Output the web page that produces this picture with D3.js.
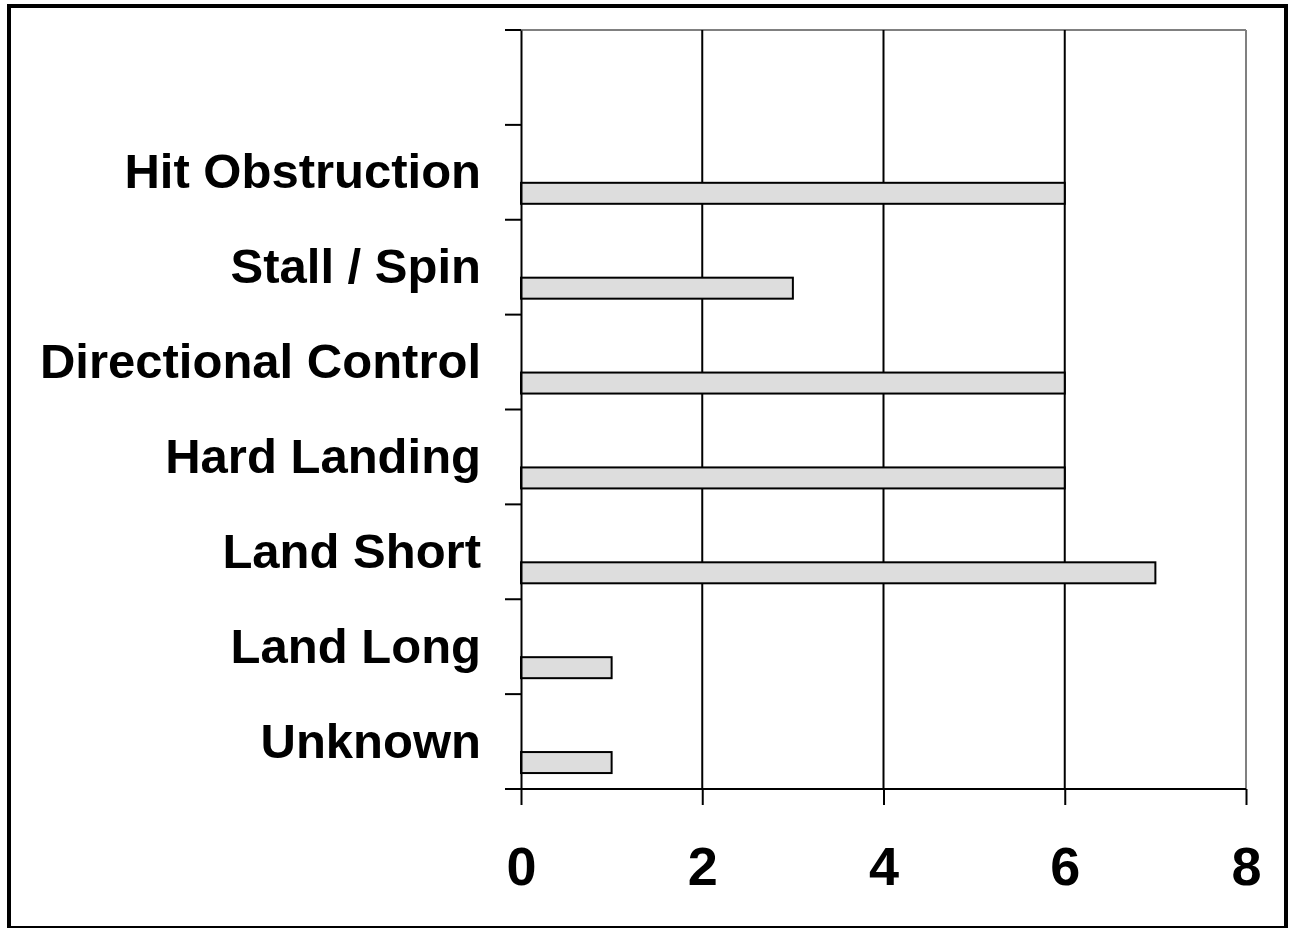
<!DOCTYPE html>
<html>
<head>
    <script src="https://d3js.org/d3.v7.min.js"></script>
    <style>
        body { margin: 0; background: #fff; }
        text { font-family: "Liberation Sans", Arial, sans-serif; font-weight: bold; fill: #000; }
    </style>
</head>
<body>
    <svg width="1293" height="928"></svg>
    <script>
        // categories top to bottom (top slot is empty in the original)
        const categories = ["", "Hit Obstruction", "Stall / Spin", "Directional Control",
            "Hard Landing", "Land Short", "Land Long", "Unknown"];
        const counts = [null, 6, 3, 6, 6, 7, 1, 1];
        const xTicks = [0, 2, 4, 6, 8];
        // three series slots per category, only the last one carries data
        const seriesSlots = ["a", "b", "c"];

        const svg = d3.select("svg");
        const plotLeft = 521, plotRight = 1246, plotTop = 30, plotBottom = 789;

        svg.append("rect")
            .attr("x", 9).attr("y", 6)
            .attr("width", 1277).attr("height", 922)
            .attr("fill", "none").attr("stroke", "#000").attr("stroke-width", 4);

        const x = d3.scaleLinear().domain([0, 8]).range([plotLeft, plotRight]);
        const y = d3.scaleBand().domain(categories).range([plotTop, plotBottom]).paddingInner(0).paddingOuter(0);
        const inner = d3.scaleBand().domain(seriesSlots)
            .range([0, y.bandwidth()]).paddingInner(0).paddingOuter(0.76);

        // plot frame (grey top and right)
        svg.append("line").attr("x1", plotLeft).attr("x2", plotRight).attr("y1", plotTop).attr("y2", plotTop)
            .attr("stroke", "#808080").attr("stroke-width", 2);
        svg.append("line").attr("x1", plotRight).attr("x2", plotRight).attr("y1", plotTop).attr("y2", plotBottom)
            .attr("stroke", "#808080").attr("stroke-width", 2);

        // vertical gridlines
        svg.append("g").selectAll("line")
            .data(xTicks.filter(d => d > 0 && d < 8))
            .join("line")
            .attr("x1", d => x(d)).attr("x2", d => x(d))
            .attr("y1", plotTop).attr("y2", plotBottom)
            .attr("stroke", "#000").attr("stroke-width", 2);

        // bars
        svg.append("g").selectAll("rect")
            .data(categories.map((c, i) => ({ c, v: counts[i] })).filter(d => d.v != null))
            .join("rect")
            .attr("x", x(0))
            .attr("y", d => y(d.c) + inner("c"))
            .attr("width", d => x(d.v) - x(0))
            .attr("height", inner.bandwidth())
            .attr("fill", "#dddddd").attr("stroke", "#000").attr("stroke-width", 2);

        // y axis
        const yAxis = svg.append("g")
            .attr("transform", `translate(${plotLeft},0)`)
            .call(d3.axisLeft(y).tickSize(0).tickFormat(""));
        yAxis.select(".domain").attr("stroke", "#000").attr("stroke-width", 2);
        const yEdges = d3.range(categories.length + 1).map(i => plotTop + i * y.bandwidth());
        svg.append("g").selectAll("line")
            .data(yEdges)
            .join("line")
            .attr("x1", plotLeft - 16).attr("x2", plotLeft)
            .attr("y1", d => d).attr("y2", d => d)
            .attr("stroke", "#000").attr("stroke-width", 2);

        svg.append("g").selectAll("text")
            .data(categories.filter(c => c))
            .join("text")
            .attr("x", 481)
            .attr("y", d => y(d) + y.bandwidth() / 2 + 16)
            .attr("text-anchor", "end")
            .style("font-size", "49px")
            .text(d => d);

        // x axis
        const xAxis = svg.append("g")
            .attr("transform", `translate(0,${plotBottom})`)
            .call(d3.axisBottom(x).tickValues(xTicks).tickSize(16).tickPadding(0).tickFormat(d3.format("d")))
            .attr("font-family", '"Liberation Sans", Arial, sans-serif')
            .attr("font-weight", "bold")
            .attr("font-size", 54);
        xAxis.select(".domain").attr("stroke", "#000").attr("stroke-width", 2).attr("d", `M${plotLeft - 16},0H${plotRight}`);
        xAxis.selectAll(".tick line").attr("stroke", "#000").attr("stroke-width", 2);
        xAxis.selectAll(".tick text")
            .attr("y", 96).attr("dy", null)
            .style("font-size", "54px")
            .style("font-weight", "700")
            .attr("fill", "#000");
    </script>
</body>
</html>
